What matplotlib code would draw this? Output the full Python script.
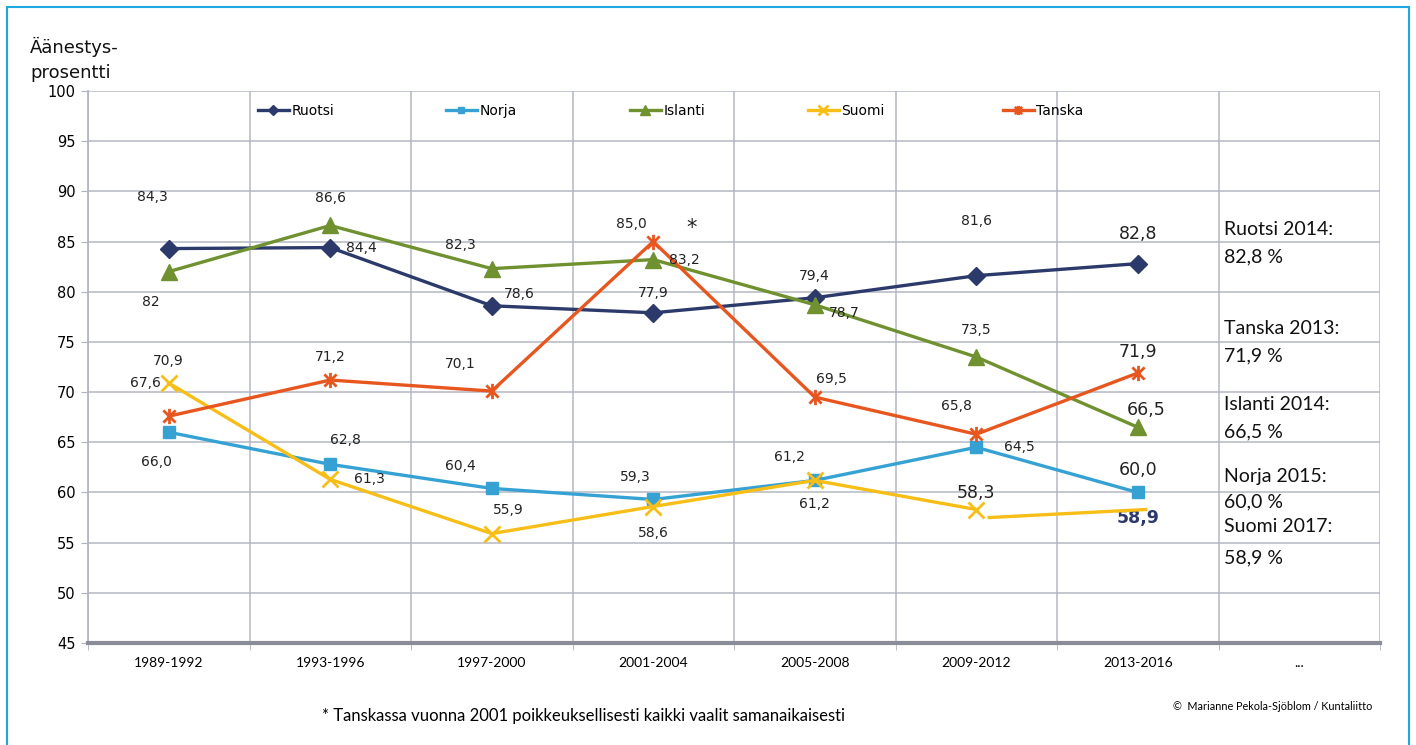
import matplotlib.pyplot as plt
from matplotlib.path import Path
from matplotlib.patches import Rectangle
from matplotlib.legend import Legend

periods = ["1989-1992", "1993-1996", "1997-2000", "2001-2004",
           "2005-2008", "2009-2012", "2013-2016", "..."]

ruotsi = [84.3, 84.4, 78.6, 77.9, 79.4, 81.6, 82.8]
norja = [66.0, 62.8, 60.4, 59.3, 61.2, 64.5, 60.0]
islanti = [82.0, 86.6, 82.3, 83.2, 78.7, 73.5, 66.5]
suomi = [70.9, 61.3, 55.9, 58.6, 61.2, 58.3]
tanska = [67.6, 71.2, 70.1, 85.0, 69.5, 65.8, 71.9]

# hand drawn last piece of the Suomi line (2009-2012 -> 2013-2016)
suomi_tail_x = [5.08, 6.05]
suomi_tail_y = [57.5, 58.3]

ruotsi_lbl = ["84,3", "84,4", "78,6", "77,9", "79,4", "81,6", "82,8"]
norja_lbl = ["66,0", "62,8", "60,4", "59,3", "61,2", "64,5", "60,0"]
islanti_lbl = ["82", "86,6", "82,3", "83,2", "78,7", "73,5", "66,5"]
suomi_lbl = ["70,9", "61,3", "55,9", "58,6", "61,2", "58,3"]
tanska_lbl = ["67,6", "71,2", "70,1", "85,0", "69,5", "65,8", "71,9"]

side_lines = ["Ruotsi 2014:", "82,8 %", "Tanska 2013:", "71,9 %", "Islanti 2014:", "66,5 %",
              "Norja 2015:", "60,0 %", "Suomi 2017:", "58,9 %"]
side_y = [86.25, 83.46, 76.29, 73.60, 68.81, 66.02, 61.54, 59.05, 56.56, 53.47]

names = ["Ruotsi", "Norja", "Islanti", "Suomi", "Tanska"]
c_ruotsi = "#2b3a6a"
c_norja = "#36a2d4"
c_islanti = "#6f912f"
c_suomi = "#f7be18"
c_tanska = "#e8561f"

# Excel style star marker: x with a vertical bar
star = Path([(-1, -1), (1, 1), (-1, 1), (1, -1), (0, -1.25), (0, 1.25)],
            [Path.MOVETO, Path.LINETO, Path.MOVETO, Path.LINETO, Path.MOVETO, Path.LINETO])

fig = plt.figure(figsize=(14.16, 7.45), dpi=100)
fig.patches.append(Rectangle((7 / 1416, -0.05), 1402 / 1416, 1.04, transform=fig.transFigure,
                             fill=False, edgecolor="#1ea7e1", linewidth=1.5))
ax = fig.add_axes([88 / 1416, 1 - 643 / 745, 1292 / 1416, 552 / 745])

x7 = list(range(7))
lw = 2.4
h1, = ax.plot(x7, ruotsi, color=c_ruotsi, lw=lw, marker="D", ms=9, zorder=5)
h2, = ax.plot(x7, norja, color=c_norja, lw=lw, marker="s", ms=8, zorder=5)
h3, = ax.plot(x7, islanti, color=c_islanti, lw=lw, marker="^", ms=11, zorder=5)
h4, = ax.plot(range(len(suomi)), suomi, color=c_suomi, lw=lw, marker="x", ms=11, mew=2, zorder=5)
ax.plot(suomi_tail_x, suomi_tail_y, color=c_suomi, lw=lw, zorder=5)
h5, = ax.plot(x7, tanska, color=c_tanska, lw=lw, marker=star, ms=11, mew=2, zorder=5)

lab = dict(fontsize=10, color="#222222", ha="center", va="center", zorder=6)
big = dict(fontsize=12.5, color="#222222", ha="center", va="center", zorder=6)

def put(xs, ys, labels, offsets):
    for i, (v, t, off) in enumerate(zip(ys, labels, offsets)):
        kw = big if i == 6 or (labels is suomi_lbl and i == 5) else lab
        ax.annotate(t, (xs[i], v), xytext=off, textcoords="offset pixels", **kw)

put(x7, ruotsi, ruotsi_lbl, [(-16, 52), (31, 0), (28, 12), (0, 20), (0, 22), (0, 55), (0, 30)])
put(x7, norja, norja_lbl, [(-12, -30), (15, 24), (-31, 22), (-18, 22), (-25, 23), (43, 0), (0, 22)])
put(x7, islanti, islanti_lbl, [(-18, -30), (0, 27), (-31, 24), (31, 0), (29, -8), (0, 27), (8, 17)])
put(range(len(suomi)), suomi, suomi_lbl, [(0, 22), (39, 0), (17, 24), (0, -26), (0, -24), (0, 17)])
put(x7, tanska, tanska_lbl, [(-23, 33), (0, 23), (-31, 27), (-22, 18), (17, 18), (-20, 28), (0, 21)])

ax.text(3.24, 86.3, "*", fontsize=15, ha="center", va="center", color="#222222")
ax.text(6.0, 57.5, "58,9", fontsize=12.5, fontweight="bold", color=c_ruotsi, ha="center", va="center")

for t, y in zip(side_lines, side_y):
    ax.text(6.534, y, t, fontsize=14, family="Lato", color="#111111", ha="left", va="center")

ax.set_xlim(-0.5, 7.5)
ax.set_ylim(45, 100)
ax.set_yticks(range(45, 101, 5))
ax.set_xticks(range(8))
ax.set_xticklabels(periods, family="Lato", fontsize=10)
ax.set_xticks([i + 0.5 for i in range(-1, 8)], minor=True)
ax.tick_params(axis="x", which="major", length=0, pad=10)
ax.tick_params(axis="x", which="minor", length=5, color="#b0b3bf")
ax.tick_params(axis="y", length=5, color="#b0b3bf", labelsize=10.5, pad=4)
ax.grid(axis="y", color="#b4b7c3", lw=1.1)
ax.grid(axis="x", which="minor", color="#b4b7c3", lw=1.1)
ax.set_axisbelow(True)
for s in ["top", "right"]:
    ax.spines[s].set_visible(False)
ax.spines["left"].set_color("#b4b7c3")
ax.spines["left"].set_linewidth(1.3)
ax.spines["bottom"].set_color("#8a8d98")
ax.spines["bottom"].set_linewidth(3)

# one small legend per series, spread across the top
leg_x = [258, 446, 630, 808, 1003]
for h, n, px in zip([h1, h2, h3, h4, h5], names, leg_x):
    lg = Legend(ax, [h], [n], loc="center left", bbox_to_anchor=((px - 88) / 1292, (643 - 111) / 552),
                frameon=False, fontsize=10, handlelength=2.2, handletextpad=0.2,
                borderpad=0, borderaxespad=0, markerscale=0.6)
    ax.add_artist(lg)

fig.text(30 / 1416, 1 - 59.5 / 745, "Äänestys-\nprosentti", fontsize=13, ha="left", va="center",
         linespacing=1.45, color="#111111")
fig.text(583 / 1416, 1 - 716 / 745, "* Tanskassa vuonna 2001 poikkeuksellisesti kaikki vaalit samanaikaisesti",
         family="Lato", fontsize=12, ha="center", va="center")
fig.text(1372 / 1416, 1 - 707 / 745, "©  Marianne Pekola-Sjöblom / Kuntaliitto",
         family="Lato", fontsize=7.8, ha="right", va="center")

fig.savefig("out.png", dpi=100)
